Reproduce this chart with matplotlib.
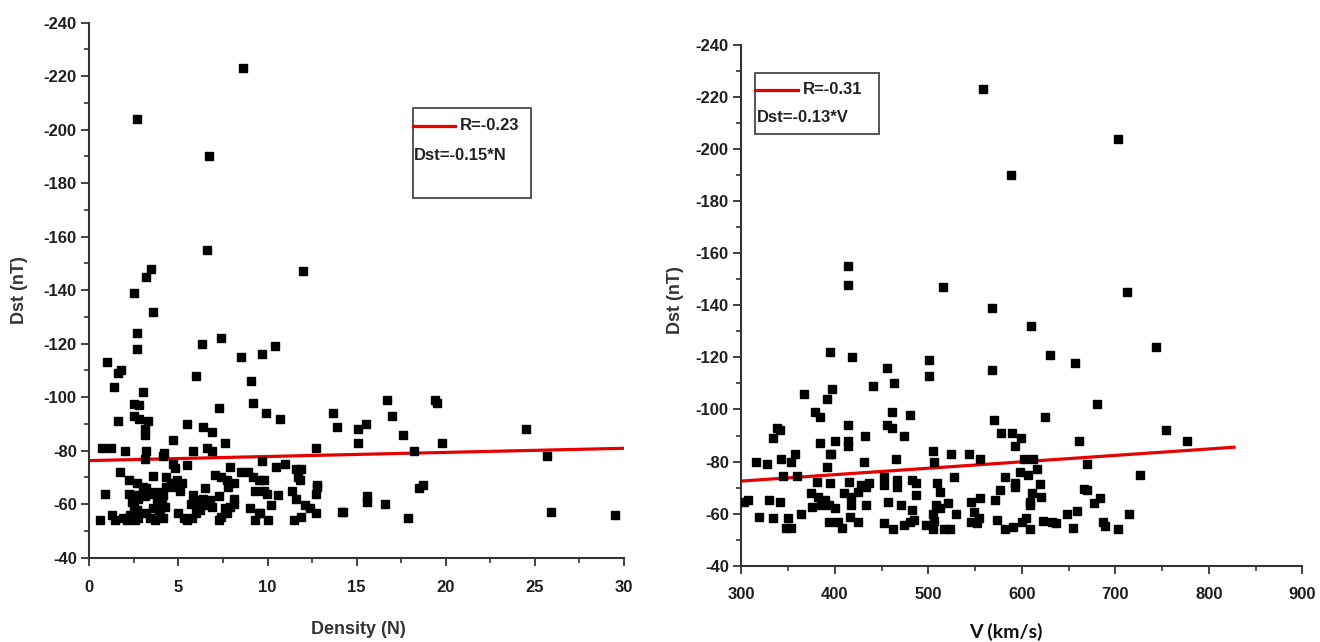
import numpy as np
import matplotlib
matplotlib.use("Agg")
import matplotlib.pyplot as plt
from matplotlib.ticker import MultipleLocator, AutoMinorLocator
from matplotlib.patches import Rectangle
from matplotlib.lines import Line2D

plt.rcParams['font.family'] = ['Liberation Sans', 'DejaVu Sans']
plt.rcParams['axes.unicode_minus'] = False

# ---- left panel: Dst vs density N ----
density_n = [8.6, 2.7, 6.7, 6.6, 12.0, 3.45, 3.2, 2.5, 3.6,
             2.7, 2.7, 6.3, 7.4, 10.4, 9.7, 8.5, 1.0, 1.6, 1.8, 6.0, 9.1, 1.4, 3.0, 9.2, 2.5, 2.8,
             7.3, 9.9, 2.5, 2.8, 10.7, 3.3, 1.6, 5.5, 6.4, 6.9, 3.1, 3.1, 4.7, 7.6,
             0.7, 1.2, 2.0, 3.2, 5.8, 6.6, 6.9, 12.7, 4.2, 4.15, 3.1, 9.7, 4.7, 4.8, 5.5, 7.9,
             10.5, 11.0, 1.7, 11.9, 11.6, 8.5, 8.9, 7.05, 7.4, 3.6, 4.3, 2.2, 7.7, 8.1, 9.2, 9.5,
             9.8, 11.7, 11.8, 12.8, 4.6, 4.9, 5.2, 2.7, 3.0, 4.3, 4.8, 5.1, 7.8, 6.5, 3.2,
             0.9, 2.2, 2.6, 2.75, 2.4, 3.4, 3.6, 3.1, 4.0, 4.15, 3.9, 5.8, 6.0, 5.7, 6.4, 6.2,
             6.8, 6.6, 6.9, 7.3, 8.1, 8.1, 7.6, 7.4, 9.3, 9.8, 9.95, 10.6, 11.4, 11.6, 12.75,
             12.7, 9.0, 9.5, 9.3, 10.0, 10.2, 12.1, 12.4, 12.7, 11.5, 11.9, 14.25,
             0.6, 1.26, 1.44, 1.9, 2.1, 2.3, 2.56, 2.75, 2.5, 2.5, 2.7, 3.2, 3.4, 3.7, 3.96,
             4.15, 3.9, 4.25, 3.6, 3.8, 4.06, 5.0, 5.3, 5.46, 5.74, 6.0, 6.2, 7.3, 7.7, 7.9, 9.6,
             13.7, 13.9, 15.1, 15.5, 15.1, 16.7, 17.0, 17.6, 18.2, 19.4, 19.5, 19.8, 24.5, 25.7,
             15.6, 15.6, 14.2, 16.6, 17.9, 18.5, 18.7, 25.9, 29.5]
dst_n = [-223, -204, -190, -155, -147, -148, -145, -139, -132,
         -124, -118, -120, -122, -119, -116, -115, -113, -109, -110, -108, -106, -104, -102, -98, -97.5, -97,
         -96, -94, -93, -92, -92, -91, -91, -90, -89, -87, -88, -86, -84, -83,
         -81, -81, -80, -80, -80, -81, -80, -81, -79, -78, -77, -76, -75, -73.4, -74.5, -74,
         -74, -75, -72, -73, -73, -72, -72, -71, -70, -70.5, -70, -69, -69, -68, -70, -69,
         -69, -70, -69, -67, -68, -69, -68, -68, -66.5, -66.5, -66.5, -65, -66.5, -66, -66,
         -64, -64, -63.4, -62, -61, -64, -64.7, -63, -64.7, -63.4, -61.6, -63.4, -61.6, -60, -62, -60.3,
         -61.6, -59.7, -59, -63, -62, -60, -58.5, -55.3, -65, -65, -64, -63.4, -65, -62, -66.5,
         -64, -58.5, -56.6, -54, -54, -59.7, -59.7, -58.5, -56.6, -54, -55.3, -57,
         -54, -56, -54, -54.7, -54, -56, -54, -54.7, -56.6, -59, -58, -56.6, -54.7, -54, -56,
         -54.7, -57.8, -59, -58.5, -60.3, -60.3, -56.6, -54.7, -54, -54.7, -56.6, -57.8, -54, -56.6, -59, -56.6,
         -94, -89, -88, -90, -83, -99, -93, -86, -80, -99, -98, -83, -88, -78,
         -63, -61, -57, -60, -55, -66, -67, -57, -56]

fit_n = [0, 30]
fit_n_dst = [-76.3, -80.9]

# ---- right panel: Dst vs solar wind speed V ----
speed_v = [558, 703, 588, 414, 414, 516, 713, 568, 610, 630, 657, 744, 568, 395, 418, 501, 456, 501,
           463, 441, 397, 367, 392, 680, 379, 384, 461, 480, 625, 570, 414, 456, 461, 338, 341, 334,
           754, 432, 474, 578, 590, 599, 593, 384, 400, 414, 414, 777, 661, 396,
           316, 328, 342, 357, 353, 345, 360, 395, 392, 431, 465, 505, 506, 524, 543, 555, 602, 612,
           670, 598, 607, 616, 726, 381, 395, 415, 428, 437, 453, 453, 466, 466, 483, 487, 528, 509,
           513, 582, 593, 593, 619, 577, 571, 611, 609, 621, 609, 666, 670, 677, 684,
           307, 303, 330, 341, 375, 382, 389, 376, 385, 394, 400, 410, 417, 425, 433, 417, 433, 457,
           471, 483, 487, 508, 521, 530, 546, 555, 549, 554, 552, 648, 659, 715, 505, 512,
           319, 334, 350, 348, 353, 364, 394, 403, 408, 416, 425, 453, 462, 474, 480, 485, 498, 505,
           506, 517, 523, 546, 573, 582, 591, 600, 605, 609, 623, 632, 637, 655, 687, 689, 703]
dst_v = [-223, -204, -190, -155, -148, -147, -145, -139, -132, -121, -118, -124, -115, -122, -120, -119, -116, -113,
         -110, -109, -108, -106, -104, -102, -99, -97, -99, -98, -97, -96, -94, -94, -93, -93, -92, -89,
         -92, -90, -90, -91, -91, -89, -86, -87, -88, -88, -86, -88, -88, -83,
         -80, -79, -81, -83, -80, -74.5, -74.5, -83, -78, -80, -81, -84, -80, -83, -83, -81, -81, -81,
         -79, -76, -75, -77, -75, -72, -71.7, -72, -71, -71.7, -74, -71, -73, -70.3, -73, -71.7, -74, -71.7,
         -68.4, -74, -71.6, -70.3, -71.4, -69, -65.2, -67.8, -64.6, -66.3, -63.3, -69.6, -68.9, -64, -66,
         -65.2, -64.6, -65.2, -64.4, -68, -66.5, -65.2, -62.7, -63.3, -63.3, -62, -67.8, -66.5, -68.4, -70.3, -63.3, -63.3, -64.6,
         -63.3, -61.4, -67.2, -63.3, -64, -60, -64.6, -65.9, -60.7, -58.2, -56.3, -60, -61, -60, -60, -62,
         -58.8, -58.2, -58.2, -54.4, -54.4, -60, -56.9, -56.9, -54.4, -58.8, -56.9, -56.3, -54, -55.6, -56.9, -57.6, -55.6, -54,
         -57, -54, -54, -56.9, -57.6, -54, -55, -56.9, -58.2, -54, -57.3, -56.9, -56.3, -54.4, -56.9, -55.3, -54]

fit_v = [300, 827]
fit_v_dst = [-72.5, -85.5]

tick_color = '#1e1e1e'
red = '#e60000'
fig = plt.figure(figsize=(13.2, 6.42), dpi=100)

ax1 = fig.add_axes([89.3 / 1320, 84.3 / 642, 534.7 / 1320, 535 / 642])
ax2 = fig.add_axes([741.3 / 1320, 76.3 / 642, 561 / 1320, 520.7 / 642])


def style_axis(ax, xpad):
    for s in ['top', 'right']:
        ax.spines[s].set_visible(False)
    for s in ['left', 'bottom']:
        ax.spines[s].set_linewidth(1.5)
        ax.spines[s].set_color('#333333')
    ax.xaxis.set_minor_locator(AutoMinorLocator(2))
    ax.yaxis.set_minor_locator(AutoMinorLocator(2))
    ax.tick_params(which='major', direction='out', length=6, width=1.3, color='#333333',
                   labelsize=12, labelcolor=tick_color)
    ax.tick_params(which='minor', direction='out', length=3.5, width=1.2, color='#333333')
    ax.tick_params(axis='x', which='major', pad=xpad)
    ax.tick_params(axis='y', which='major', pad=3)
    for lab in ax.get_xticklabels() + ax.get_yticklabels():
        lab.set_fontweight('bold')


# left panel
ax1.plot(density_n, dst_n, 's', color='black', markersize=5.8, zorder=3)
ax1.plot(fit_n, fit_n_dst, color=red, linewidth=2.3, zorder=2)
ax1.set_xlim(0, 30)
ax1.set_ylim(-40, -240)
ax1.xaxis.set_major_locator(MultipleLocator(5))
ax1.yaxis.set_major_locator(MultipleLocator(20))
style_axis(ax1, 10)

ax1.add_patch(Rectangle((0.605, 0.672), 0.222, 0.169, transform=ax1.transAxes,
                        fill=False, edgecolor='#555555', linewidth=1.4, zorder=4))
ax1.add_line(Line2D([0.605, 0.684], [0.807, 0.807], transform=ax1.transAxes,
                    color=red, linewidth=2.3, zorder=5))
ax1.text(0.693, 0.807, 'R=-0.23', transform=ax1.transAxes, fontsize=12,
         fontweight='bold', color='#222222', va='center', ha='left')
ax1.text(0.607, 0.751, 'Dst=-0.15*N', transform=ax1.transAxes, fontsize=12,
         fontweight='bold', color='#222222', va='center', ha='left')

# right panel
ax2.plot(speed_v, dst_v, 's', color='black', markersize=5.8, zorder=3)
ax2.plot(fit_v, fit_v_dst, color=red, linewidth=2.3, zorder=2)
ax2.set_xlim(300, 900)
ax2.set_ylim(-40, -240)
ax2.xaxis.set_major_locator(MultipleLocator(100))
ax2.yaxis.set_major_locator(MultipleLocator(20))
style_axis(ax2, 9)

ax2.add_patch(Rectangle((0.0244, 0.829), 0.221, 0.117, transform=ax2.transAxes,
                        fill=False, edgecolor='#555555', linewidth=1.4, zorder=4))
ax2.add_line(Line2D([0.0244, 0.101], [0.9136, 0.9136], transform=ax2.transAxes,
                    color=red, linewidth=2.3, zorder=5))
ax2.text(0.11, 0.9136, 'R=-0.31', transform=ax2.transAxes, fontsize=12,
         fontweight='bold', color='#222222', va='center', ha='left')
ax2.text(0.028, 0.86, 'Dst=-0.13*V', transform=ax2.transAxes, fontsize=12,
         fontweight='bold', color='#222222', va='center', ha='left')

# axis labels
fig.text(20 / 1320, 1 - 290 / 642, 'Dst (nT)', rotation=90, fontsize=13,
         fontweight='bold', color='#333333', ha='center', va='center')
fig.text(358 / 1320, 1 - 630 / 642, 'Density (N)', fontsize=13,
         fontweight='bold', color='#333333', ha='center', va='center')
fig.text(675 / 1320, 1 - 300 / 642, 'Dst (nT)', rotation=90, fontsize=13,
         fontweight='bold', color='#333333', ha='center', va='center')
fig.text(1006 / 1320, 1 - 632 / 642, 'V (km/s)', fontsize=14, family=['Lato', 'DejaVu Sans'],
         fontweight='bold', color='#111111', ha='center', va='center')

fig.savefig('out.png', dpi=100, facecolor='white')
